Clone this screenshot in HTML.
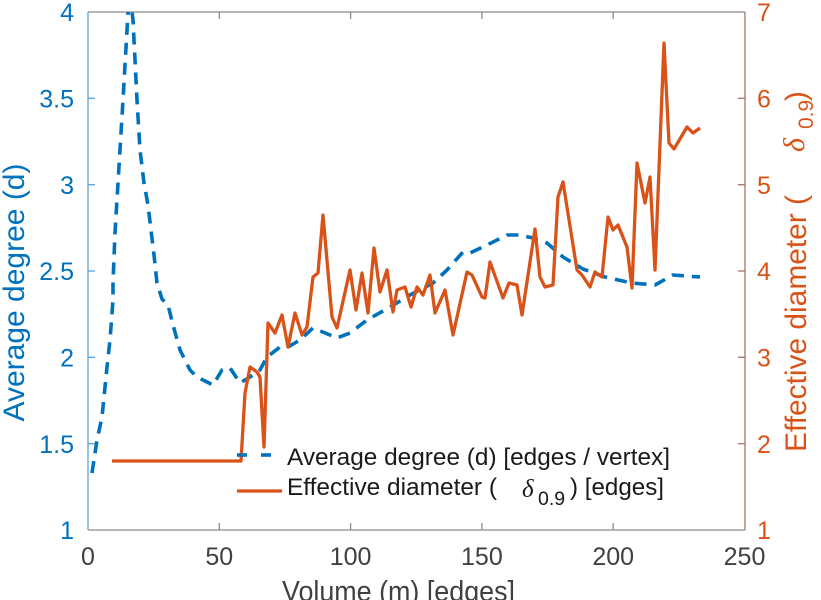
<!DOCTYPE html>
<html><head><meta charset="utf-8"><style>
html,body{margin:0;padding:0;background:#fff;}
svg{display:block;}
text{font-family:"Liberation Sans",sans-serif;}
</style></head><body>
<svg width="821" height="600" viewBox="0 0 821 600" xmlns="http://www.w3.org/2000/svg">
<defs><clipPath id="pa"><rect x="88" y="12" width="657" height="518"/></clipPath></defs>
<rect width="821" height="600" fill="#fff"/>

<!-- axes box -->
<line x1="88" y1="12" x2="745" y2="12" stroke="#8a8a8a" stroke-width="1.3"/>
<line x1="88" y1="530" x2="745" y2="530" stroke="#8a8a8a" stroke-width="1.3"/>
<line x1="88" y1="12" x2="88" y2="530" stroke="#5aa3dc" stroke-width="1.3"/>
<line x1="745" y1="12" x2="745" y2="530" stroke="#a87465" stroke-width="1.3"/>

<!-- x ticks top/bottom -->
<g stroke="#8a8a8a" stroke-width="1.3">
<line x1="219.3" y1="12" x2="219.3" y2="19"/><line x1="350.6" y1="12" x2="350.6" y2="19"/>
<line x1="481.9" y1="12" x2="481.9" y2="19"/><line x1="613.2" y1="12" x2="613.2" y2="19"/>
<line x1="219.3" y1="530" x2="219.3" y2="523"/><line x1="350.6" y1="530" x2="350.6" y2="523"/>
<line x1="481.9" y1="530" x2="481.9" y2="523"/><line x1="613.2" y1="530" x2="613.2" y2="523"/>
</g>
<!-- left ticks -->
<g stroke="#5aa3dc" stroke-width="1.3">
<line x1="88" y1="98.3" x2="95" y2="98.3"/><line x1="88" y1="184.7" x2="95" y2="184.7"/>
<line x1="88" y1="271" x2="95" y2="271"/><line x1="88" y1="357.3" x2="95" y2="357.3"/>
<line x1="88" y1="443.7" x2="95" y2="443.7"/>
</g>
<!-- right ticks -->
<g stroke="#a87465" stroke-width="1.3">
<line x1="745" y1="98.3" x2="738" y2="98.3"/><line x1="745" y1="184.7" x2="738" y2="184.7"/>
<line x1="745" y1="271" x2="738" y2="271"/><line x1="745" y1="357.3" x2="738" y2="357.3"/>
<line x1="745" y1="443.7" x2="738" y2="443.7"/>
</g>

<!-- data -->
<g clip-path="url(#pa)" fill="none" stroke-linejoin="round">
<polyline stroke="#0072BD" stroke-width="3.6" stroke-dasharray="12 8"
points="92,473 97,440 102,417 107,367 110,340 113,300 113,283 115,233 118,183 123,100 128,13 131,4 133,20 137,100 140,150 144,183 148,205 151,230 154,255 157,283 162,299 168,305 173,325 180,350 190,370 197,377 205,381 213,385 222,370 230,368 240,383 250,377 260,370 267,357 280,347 288,347 300,340 313,328 330,335 337,338 350,333 367,320 390,307 410,295 433,283 447,270 463,252 470,253 487,245 507,235 520,235 533,238 547,243 563,257 583,269 605,277 632,283 655,285 673,275 700,277"/>
<polyline stroke="#D95319" stroke-width="3.3"
points="112,461 241,461 245,393 250,367 257,372 260,377 264,447 268,323 275,333 282,315 288,347 295,313 302,335 307,327 313,277 318,273 323,215 332,317 337,328 350,270 356,310 362,273 368,313 374,248 380,292 387,270 393,312 397,290 405,287 411,307 417,287 423,295 430,275 435,313 445,290 453,335 467,272 472,275 482,297 485,298 490,262 503,298 509,283 517,285 522,315 535,229 540,277 545,287 553,285 558,197 563,182 577,270 582,275 590,287 595,272 602,277 608,217 613,230 618,225 627,247 632,288 637,163 645,203 650,177 655,270 664,43 669,143 674,149 687,127 693,133 700,128"/>
</g>

<!-- left tick labels -->
<g fill="#0072BD" font-size="25" text-anchor="end">
<text x="74" y="21">4</text><text x="74" y="107.5">3.5</text><text x="74" y="194">3</text>
<text x="74" y="280">2.5</text><text x="74" y="366.5">2</text><text x="74" y="453">1.5</text>
<text x="74" y="539">1</text>
</g>
<!-- right tick labels -->
<g fill="#D95319" font-size="25">
<text x="757" y="21">7</text><text x="757" y="107.5">6</text><text x="757" y="194">5</text>
<text x="757" y="280">4</text><text x="757" y="366.5">3</text><text x="757" y="453">2</text>
<text x="757" y="539">1</text>
</g>
<!-- x tick labels -->
<g fill="#404040" font-size="25" text-anchor="middle">
<text x="88" y="565">0</text><text x="219.3" y="565">50</text><text x="350.6" y="565">100</text>
<text x="481.9" y="565">150</text><text x="613.2" y="565">200</text><text x="744.5" y="565">250</text>
</g>

<!-- x label -->
<text x="398.5" y="601" fill="#404040" font-size="29" text-anchor="middle" textLength="233" lengthAdjust="spacingAndGlyphs">Volume (m) [edges]</text>

<!-- left title -->
<text transform="translate(24,292.5) rotate(-90)" fill="#0072BD" font-size="29.5" text-anchor="middle" textLength="258" lengthAdjust="spacingAndGlyphs">Average degree (d)</text>

<!-- right title -->
<g transform="translate(806,452) rotate(-90)" fill="#D95319">
<text x="0" y="0" font-size="29.5" textLength="257" lengthAdjust="spacingAndGlyphs">Effective diameter (</text>
<text x="300" y="-2" font-size="30" font-style="italic" style="font-family:'Liberation Serif',serif">δ</text>
<text x="323" y="7" font-size="21">0.9</text>
<text x="351" y="0" font-size="29.5">)</text>
</g>

<!-- legend -->
<line x1="237" y1="455" x2="247" y2="455" stroke="#0072BD" stroke-width="3.6"/>
<line x1="261" y1="455" x2="271" y2="455" stroke="#0072BD" stroke-width="3.6"/>
<line x1="237" y1="491" x2="282" y2="491" stroke="#D95319" stroke-width="3.3"/>
<g fill="#1a1a1a" font-size="24.4">
<text x="287" y="465" textLength="383" lengthAdjust="spacingAndGlyphs">Average degree (d) [edges / vertex]</text>
<text x="287" y="495" textLength="210" lengthAdjust="spacingAndGlyphs">Effective diameter (</text>
<text x="522" y="497" font-size="25" font-style="italic" style="font-family:'Liberation Serif',serif">δ</text>
<text x="538" y="505" font-size="19.5">0.9</text>
<text x="570" y="495" textLength="94" lengthAdjust="spacingAndGlyphs">) [edges]</text>
</g>
</svg>
</body></html>
